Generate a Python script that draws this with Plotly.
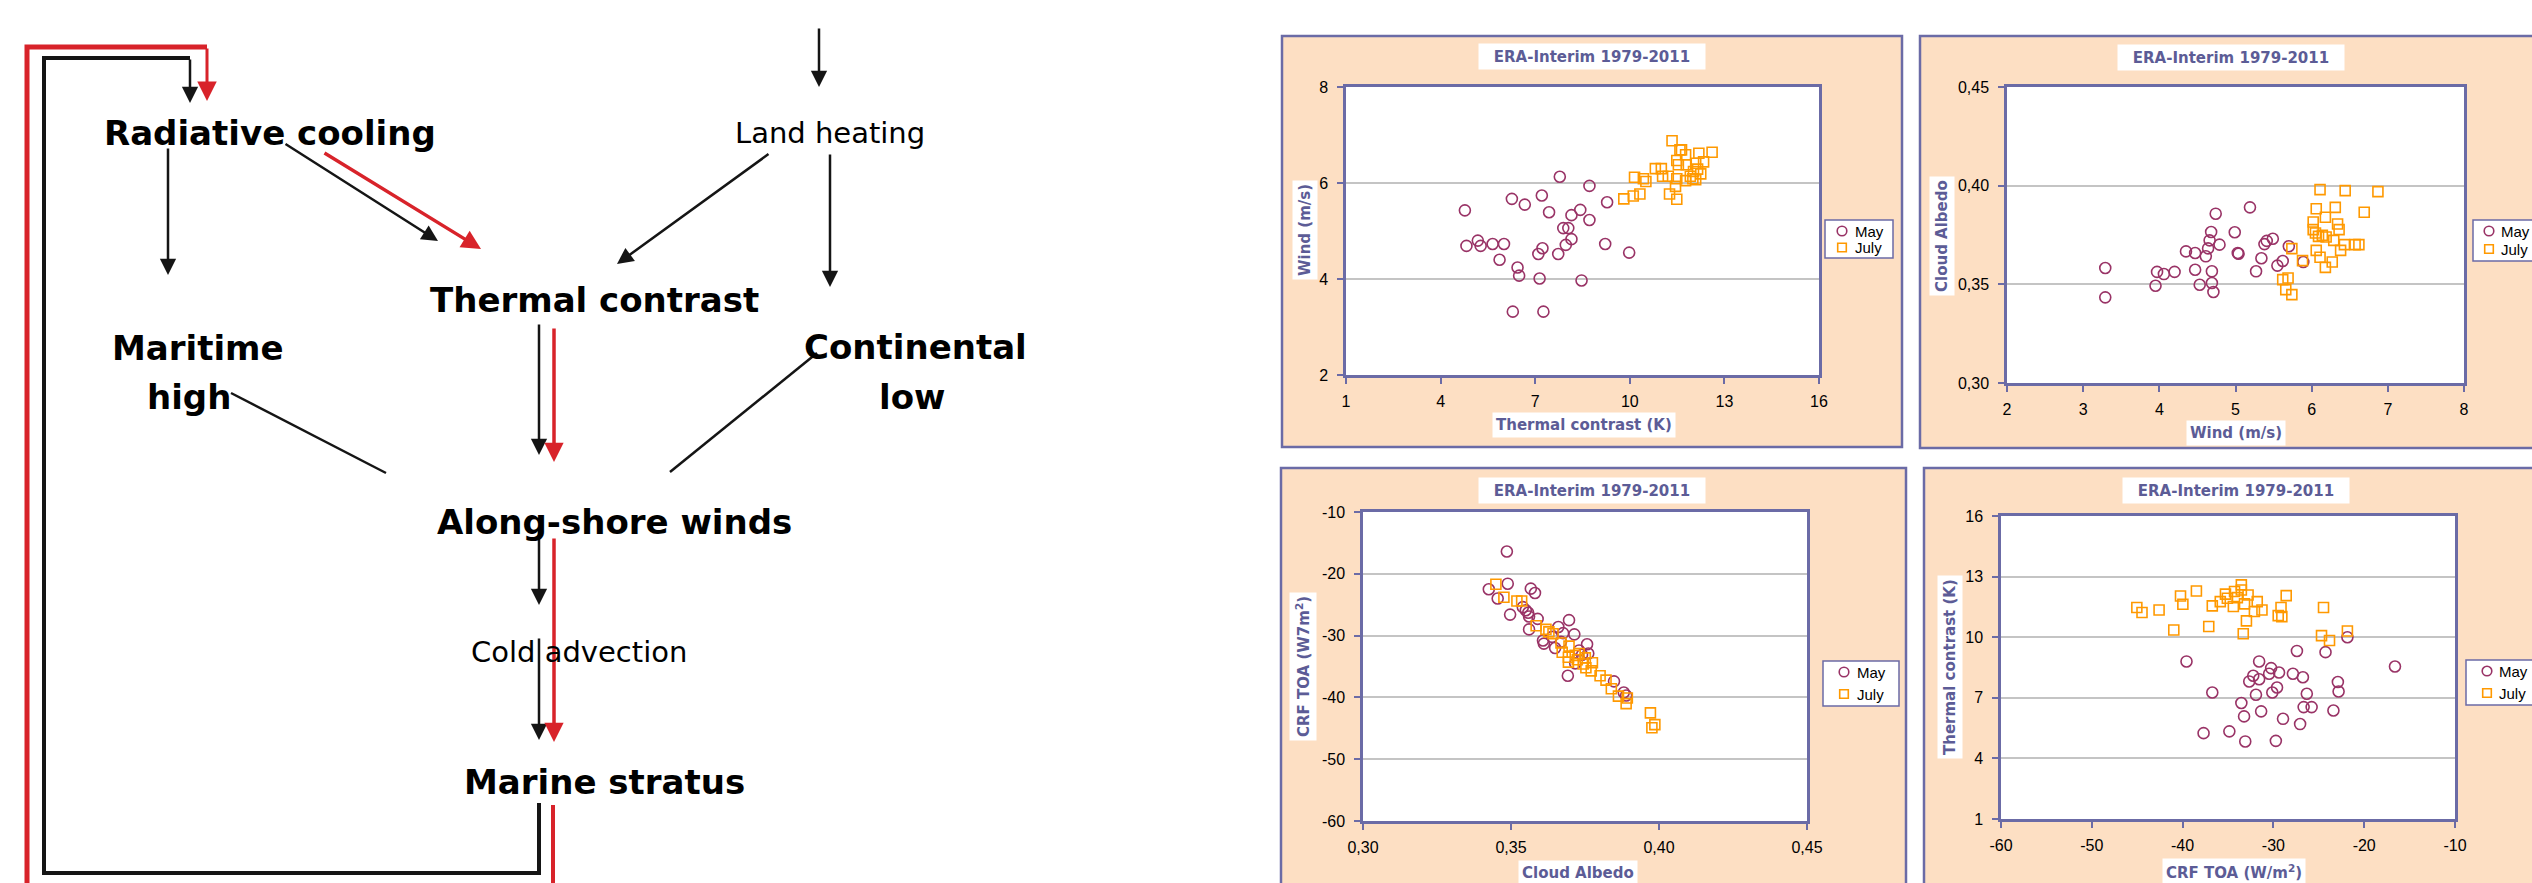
import plotly.graph_objects as go

W, H = 2532, 883

# ---------------- data ----------------
# Panel 1: Thermal contrast (K) vs Wind (m/s)
p1_may_x = [4.77, 4.82, 5.18, 5.27, 5.65, 6.01, 5.87, 6.26, 6.67, 6.44, 6.49, 6.29, 7.21, 7.44, 7.23, 7.10,
            7.14, 7.26, 7.78, 7.73, 7.89, 8.05, 8.15, 8.43, 7.97, 8.15, 8.47, 8.72, 8.72, 9.28, 9.22, 9.98]
p1_may_y = [5.43, 4.69, 4.80, 4.69, 4.73, 4.73, 4.40, 5.67, 5.55, 4.24, 4.07, 3.32, 5.74, 5.39, 4.64, 4.52,
            4.01, 3.32, 6.13, 4.52, 5.06, 5.06, 5.33, 5.44, 4.71, 4.83, 3.97, 5.94, 5.23, 5.60, 4.73, 4.55]
p1_jul_x = [9.81, 10.11, 10.32, 10.15, 10.43, 10.51, 10.81, 11.00, 11.04, 11.22, 11.26, 11.49, 11.45, 11.49,
            11.34, 11.59, 11.64, 11.49, 11.54, 11.77, 11.79, 11.77, 11.92, 12.02, 12.09, 12.09, 12.19, 12.25,
            12.34, 12.61, 12.00, 12.15]
p1_jul_y = [5.67, 5.73, 5.77, 6.12, 6.09, 6.03, 6.30, 6.30, 6.14, 6.14, 5.77, 5.66, 5.93, 6.09,
            6.88, 6.69, 6.69, 6.47, 6.38, 6.59, 6.38, 6.05, 6.14, 6.24, 6.41, 6.07, 6.62, 6.19,
            6.44, 6.64, 6.09, 6.29]

# Panel 2: Wind (m/s) vs Cloud Albedo
p2_may_x = [3.29, 3.29, 3.95, 3.97, 4.06, 4.20, 4.35, 4.47, 4.47, 4.53, 4.61, 4.64, 4.66, 4.68, 4.69, 4.69,
            4.71, 4.74, 4.79, 4.99, 5.03, 5.04, 5.19, 5.27, 5.34, 5.38, 5.41, 5.49, 5.55, 5.62, 5.70, 5.89]
p2_may_y = [0.3583, 0.3434, 0.3493, 0.3563, 0.3552, 0.3563, 0.3667, 0.3659, 0.3574, 0.3498, 0.3642, 0.3682,
            0.3723, 0.3765, 0.3566, 0.3507, 0.3461, 0.3858, 0.3701, 0.3764, 0.3659, 0.3655, 0.3890, 0.3566,
            0.3632, 0.3704, 0.3720, 0.3731, 0.3595, 0.3618, 0.3693, 0.3613]
p2_jul_x = [5.62, 5.69, 5.66, 5.74, 5.74, 5.88, 6.02, 6.02, 6.05, 6.06, 6.09, 6.06, 6.11, 6.11, 6.18, 6.19,
            6.18, 6.29, 6.27, 6.31, 6.34, 6.36, 6.38, 6.43, 6.44, 6.57, 6.62, 6.69, 6.87, 6.14]
p2_jul_y = [0.3524, 0.3532, 0.3473, 0.3448, 0.3681, 0.3620, 0.3816, 0.3777, 0.3760, 0.3883, 0.3743, 0.3672,
            0.3980, 0.3637, 0.3840, 0.3740, 0.3586, 0.3723, 0.3613, 0.3890, 0.3806, 0.3777, 0.3672, 0.3701,
            0.3975, 0.3701, 0.3701, 0.3865, 0.3970, 0.3748]

# Panel 3: Cloud Albedo vs CRF TOA
p3_may_x = [0.3486, 0.3489, 0.3425, 0.3455, 0.3497, 0.3567, 0.3581, 0.3540, 0.3550, 0.3558, 0.3561, 0.3561,
            0.3590, 0.3608, 0.3611, 0.3639, 0.3649, 0.3660, 0.3676, 0.3696, 0.3714, 0.3692, 0.3730, 0.3740,
            0.3757, 0.3761, 0.3717, 0.3848, 0.3881, 0.3889, 0.3669]
p3_may_y = [-16.4, -21.6, -22.5, -24.0, -26.6, -22.4, -23.1, -25.4, -25.9, -26.3, -26.9, -29.0,
            -27.3, -30.8, -31.3, -30.2, -32.0, -28.6, -29.6, -27.5, -29.8, -36.5, -32.4, -33.1,
            -31.4, -32.9, -34.5, -37.4, -39.2, -39.7, -31.0]
p3_jul_x = [0.3449, 0.3476, 0.3520, 0.3536, 0.3585, 0.3618, 0.3628, 0.3642, 0.3669, 0.3673, 0.3696, 0.3694,
            0.3694, 0.3717, 0.3730, 0.3724, 0.3744, 0.3751, 0.3753, 0.3775, 0.3771, 0.3801, 0.3821, 0.3839,
            0.3863, 0.3893, 0.3889, 0.3971, 0.3976, 0.3986]
p3_jul_y = [-21.7, -23.8, -24.4, -24.4, -28.4, -29.0, -29.4, -29.7, -31.2, -32.7, -31.7, -33.5,
            -34.3, -33.2, -32.9, -33.9, -34.6, -33.6, -35.2, -34.4, -35.7, -36.5, -37.2, -38.6,
            -39.8, -40.1, -41.0, -42.5, -44.9, -44.4]

# Panel 4: CRF TOA vs Thermal contrast
p4_may_x = [-39.57, -37.69, -36.73, -34.85, -33.53, -33.23, -33.10, -32.66, -32.22, -31.92, -31.57, -31.57,
            -31.35, -30.47, -30.25, -30.12, -29.60, -29.38, -29.73, -28.94, -27.85, -27.41, -27.06, -26.75,
            -26.32, -26.67, -25.79, -24.26, -23.39, -22.90, -22.82, -21.85, -16.61]
p4_may_y = [8.80, 5.25, 7.26, 5.34, 6.74, 6.08, 4.84, 7.81, 8.09, 7.15, 7.92, 8.80,
            6.33, 8.19, 8.47, 7.26, 7.51, 8.25, 4.87, 5.96, 8.19, 9.32, 5.70, 8.02,
            7.20, 6.54, 6.54, 9.26, 6.37, 7.78, 7.31, 10.00, 8.55]
p4_jul_x = [-45.04, -44.47, -42.59, -40.97, -40.23, -39.97, -38.48, -37.12, -36.73, -35.85, -35.28, -35.07,
            -34.41, -34.28, -33.97, -33.53, -33.53, -33.32, -33.18, -32.97, -32.79, -32.09, -31.78, -31.26,
            -29.47, -29.16, -29.07, -28.59, -24.70, -24.48, -23.82, -21.85]
p4_jul_y = [11.47, 11.22, 11.35, 10.36, 12.04, 11.63, 12.29, 10.53, 11.55, 11.76, 12.13, 11.93,
            11.52, 12.26, 11.96, 12.59, 12.34, 10.17, 11.65, 10.81, 12.09, 11.27, 11.76, 11.35,
            11.07, 11.47, 11.02, 12.06, 10.08, 11.47, 9.84, 10.31]

# tick values / labels
p1_xticks = [1, 4, 7, 10, 13, 16]
p1_yticks = [2, 4, 6, 8]
p2_xticks = [2, 3, 4, 5, 6, 7, 8]
p2_yticks = [0.30, 0.35, 0.40, 0.45]
p2_yticklabels = ["0,30", "0,35", "0,40", "0,45"]
p3_xticks = [0.30, 0.35, 0.40, 0.45]
p3_xticklabels = ["0,30", "0,35", "0,40", "0,45"]
p3_yticks = [-60, -50, -40, -30, -20, -10]
p3_yticklabels = ["-60", "-50", "-40", "-30", "-20", "-10"]
p4_xticks = [-60, -50, -40, -30, -20, -10]
p4_xticklabels = ["-60", "-50", "-40", "-30", "-20", "-10"]
p4_yticks = [1, 4, 7, 10, 13, 16]

chart_title = "ERA-Interim 1979-2011"
series_names = ["May", "July"]

# ---------------- styling ----------------
PEACH = "#FDDFC3"
BORDER = "#6B6BA6"
TITLE_C = "#5C5C96"
MAY_C = "#993366"
JUL_C = "#FF9900"
GRID = "#C4C4C4"
RED = "#D8232A"
BLK = "#151515"
TICKFONT = dict(family="Liberation Sans, Arial", size=16, color="black")
LEGFONT = dict(family="Liberation Sans, Arial", size=15, color="black")
BOLDFONT = "DejaVu Sans"


def X(px):
    return px / W


def Y(py):
    return 1 - py / H


fig = go.Figure()

panels = [
    dict(xd=(1346, 1819), yd=(87, 375), xr=[1, 16], yr=[2, 8],
         xt=p1_xticks, xtl=[str(v) for v in p1_xticks], yt=p1_yticks, ytl=[str(v) for v in p1_yticks],
         may=(p1_may_x, p1_may_y), jul=(p1_jul_x, p1_jul_y),
         box=(1282, 36, 1902, 447), title=(1592, 56.5),
         leg=dict(box=(1825, 220, 1893, 258), mx=1842, tx=1853, y1=231, y2=247.5),
         xtitle=("Thermal contrast (K)", 1584, 424.5), ytitle=("Wind (m/s)", 1305, 230)),
    dict(xd=(2007, 2464), yd=(87, 383), xr=[2, 8], yr=[0.30, 0.45],
         xt=p2_xticks, xtl=[str(v) for v in p2_xticks], yt=p2_yticks, ytl=p2_yticklabels,
         may=(p2_may_x, p2_may_y), jul=(p2_jul_x, p2_jul_y),
         box=(1920, 36, 2560, 448), title=(2231, 57),
         leg=dict(box=(2473, 220, 2560, 261), mx=2489, tx=2499, y1=231, y2=249),
         xtitle=("Wind (m/s)", 2236, 433), ytitle=("Cloud Albedo", 1942, 236)),
    dict(xd=(1363, 1807), yd=(512, 821), xr=[0.30, 0.45], yr=[-60, -10],
         xt=p3_xticks, xtl=p3_xticklabels, yt=p3_yticks, ytl=p3_yticklabels,
         may=(p3_may_x, p3_may_y), jul=(p3_jul_x, p3_jul_y),
         box=(1281, 468, 1906, 900), title=(1592, 490.5),
         leg=dict(box=(1823, 661, 1899, 706), mx=1844, tx=1855, y1=672, y2=694),
         xtitle=("Cloud Albedo", 1578, 873), ytitle=("CRF TOA (W7m<sup>2</sup>)", 1303, 667)),
    dict(xd=(2001, 2455), yd=(516, 819), xr=[-60, -10], yr=[1, 16],
         xt=p4_xticks, xtl=p4_xticklabels, yt=p4_yticks, ytl=[str(v) for v in p4_yticks],
         may=(p4_may_x, p4_may_y), jul=(p4_jul_x, p4_jul_y),
         box=(1924, 468, 2560, 900), title=(2236, 490),
         leg=dict(box=(2466, 660, 2560, 705), mx=2487, tx=2497, y1=671, y2=693),
         xtitle=("CRF TOA (W/m<sup>2</sup>)", 2234, 872), ytitle=("Thermal contrast (K)", 1950, 667)),
]

shapes = []
annotations = []
layout_extra = {}

for i, p in enumerate(panels, start=1):
    sfx = "" if i == 1 else str(i)
    xa, ya = "x" + sfx, "y" + sfx
    # panel background and plot-area background
    bx0, by0, bx1, by1 = p["box"]
    shapes.append(dict(type="rect", xref="paper", yref="paper", layer="below",
                       x0=X(bx0), x1=X(bx1), y0=Y(by1), y1=Y(by0),
                       fillcolor=PEACH, line=dict(color=BORDER, width=2.5)))
    shapes.append(dict(type="rect", xref="paper", yref="paper", layer="below",
                       x0=X(p["xd"][0]), x1=X(p["xd"][1]), y0=Y(p["yd"][1]), y1=Y(p["yd"][0]),
                       fillcolor="white", line=dict(width=0)))
    layout_extra["xaxis" + sfx] = dict(
        domain=[X(p["xd"][0]), X(p["xd"][1])], anchor=ya, range=p["xr"],
        tickvals=p["xt"], ticktext=p["xtl"], showgrid=False, zeroline=False,
        showline=True, mirror=True, linecolor=BORDER, linewidth=2.5,
        ticks="outside", ticklen=6, tickwidth=2, tickcolor=BORDER,
        tickfont=TICKFONT, ticklabelstandoff=4)
    layout_extra["yaxis" + sfx] = dict(
        domain=[Y(p["yd"][1]), Y(p["yd"][0])], anchor=xa, range=p["yr"],
        tickvals=p["yt"], ticktext=p["ytl"], showgrid=True, gridcolor=GRID, gridwidth=1.5,
        zeroline=False, showline=True, mirror=True, linecolor=BORDER, linewidth=2.5,
        ticks="outside", ticklen=6, tickwidth=2, tickcolor=BORDER,
        tickfont=TICKFONT, ticklabelstandoff=6)
    fig.add_trace(go.Scatter(
        x=p["may"][0], y=p["may"][1], mode="markers", name=series_names[0],
        marker=dict(symbol="circle-open", size=11, color=MAY_C, line=dict(width=1.6, color=MAY_C)),
        xaxis=xa, yaxis=ya, showlegend=False))
    fig.add_trace(go.Scatter(
        x=p["jul"][0], y=p["jul"][1], mode="markers", name=series_names[1],
        marker=dict(symbol="square-open", size=10, color=JUL_C, line=dict(width=1.6, color=JUL_C)),
        xaxis=xa, yaxis=ya, showlegend=False))

    # legend box (drawn as shapes + texts)
    lg = p["leg"]
    lx0, ly0, lx1, ly1 = lg["box"]
    shapes.append(dict(type="rect", xref="paper", yref="paper",
                       x0=X(lx0), x1=X(lx1), y0=Y(ly1), y1=Y(ly0),
                       fillcolor="white", line=dict(color=BORDER, width=1.5)))
    r = 4.8
    shapes.append(dict(type="circle", xref="paper", yref="paper",
                       x0=X(lg["mx"] - r), x1=X(lg["mx"] + r), y0=Y(lg["y1"] + r), y1=Y(lg["y1"] - r),
                       line=dict(color=MAY_C, width=1.6)))
    s = 4.3
    shapes.append(dict(type="rect", xref="paper", yref="paper",
                       x0=X(lg["mx"] - s), x1=X(lg["mx"] + s), y0=Y(lg["y2"] + s), y1=Y(lg["y2"] - s),
                       line=dict(color=JUL_C, width=1.6)))
    for name, yy in zip(series_names, (lg["y1"], lg["y2"])):
        annotations.append(dict(x=X(lg["tx"]), y=Y(yy), xref="paper", yref="paper", text=name,
                                showarrow=False, font=LEGFONT, xanchor="left", yanchor="middle"))

    # chart title
    annotations.append(dict(x=X(p["title"][0]), y=Y(p["title"][1]), xref="paper", yref="paper",
                            text="<b>%s</b>" % chart_title, showarrow=False, bgcolor="white",
                            width=222, height=21, borderpad=2,
                            font=dict(family=BOLDFONT, size=15, color=TITLE_C),
                            xanchor="center", yanchor="middle"))
    # axis titles
    t, tx, ty = p["xtitle"]
    annotations.append(dict(x=X(tx), y=Y(ty), xref="paper", yref="paper", text="<b>%s</b>" % t,
                            showarrow=False, bgcolor="white", borderpad=3,
                            font=dict(family=BOLDFONT, size=15, color=TITLE_C),
                            xanchor="center", yanchor="middle"))
    t, tx, ty = p["ytitle"]
    annotations.append(dict(x=X(tx), y=Y(ty), xref="paper", yref="paper", text="<b>%s</b>" % t,
                            showarrow=False, bgcolor="white", borderpad=3, textangle=-90,
                            font=dict(family=BOLDFONT, size=15, color=TITLE_C),
                            xanchor="center", yanchor="middle"))


# ---------------- left flow diagram ----------------
def line(x0, y0, x1, y1, color, width):
    shapes.append(dict(type="line", xref="paper", yref="paper",
                       x0=X(x0), y0=Y(y0), x1=X(x1), y1=Y(y1),
                       line=dict(color=color, width=width)))


def polyline(pts, color, width):
    path = "M " + " L ".join("%f %f" % (X(a), Y(b)) for a, b in pts)
    shapes.append(dict(type="path", xref="paper", yref="paper", path=path,
                       line=dict(color=color, width=width)))


def arrow(x0, y0, x1, y1, color, width, size=1.3):
    annotations.append(dict(x=X(x1), y=Y(y1), xref="paper", yref="paper",
                            ax=x0 - x1, ay=y0 - y1, axref="pixel", ayref="pixel",
                            text="", showarrow=True, arrowhead=2, arrowsize=size,
                            arrowwidth=width, arrowcolor=color, standoff=0, startstandoff=0))


def label(txt, cx, cy, bold=True, size=34):
    annotations.append(dict(x=X(cx), y=Y(cy), xref="paper", yref="paper",
                            text="<b>%s</b>" % txt if bold else txt, showarrow=False,
                            font=dict(family="DejaVu Sans", size=size, color="black"),
                            xanchor="center", yanchor="middle"))


# feedback loops
polyline([(27, 900), (27, 47), (207, 47)], RED, 5)
arrow(207, 47, 207, 101, RED, 3)
polyline([(539, 803), (539, 873), (44, 873), (44, 58), (190, 58)], BLK, 4)
arrow(190, 58, 190, 103, BLK, 2.5)
line(553, 805, 553, 900, RED, 4)

# incoming arrow from top to land heating
arrow(819, 27, 819, 87, BLK, 2.5)
# radiative cooling -> maritime high
arrow(168, 147, 168, 275, BLK, 2.5)
# radiative cooling -> thermal contrast
arrow(284, 143, 438, 241, BLK, 2.5)
arrow(323, 152, 481, 249, RED, 3.5, 1.1)
# land heating -> thermal contrast / continental low
arrow(770, 153, 617, 264, BLK, 2.5)
arrow(830, 153, 830, 287, BLK, 2.5)
# thermal contrast -> along-shore winds
arrow(539, 323, 539, 455, BLK, 2.5)
arrow(554, 327, 554, 462, RED, 3.5, 1.1)
# maritime high / continental low -> along-shore winds
line(231, 393, 386, 473, BLK, 2.5)
line(817, 353, 670, 472, BLK, 2.5)
# along-shore -> cold advection -> marine stratus
arrow(539, 527, 539, 605, BLK, 2.5)
arrow(539, 637, 539, 740, BLK, 2.5)
arrow(554, 537, 554, 742, RED, 3.5, 1.1)

label("Radiative cooling", 270, 133)
label("Land heating", 830, 133, bold=False, size=29)
label("Thermal contrast", 594, 300)
label("Maritime", 198, 348)
label("high", 189, 397)
label("Continental", 915, 347)
label("low", 912, 397)
label("Along-shore winds", 614, 522)
label("Cold advection", 579, 652, bold=False, size=29)
label("Marine stratus", 604, 782)

fig.update_layout(
    width=W, height=H, autosize=False,
    margin=dict(l=0, r=0, t=0, b=0, pad=0, autoexpand=False),
    paper_bgcolor="white", plot_bgcolor="rgba(0,0,0,0)",
    showlegend=False,
    shapes=shapes, annotations=annotations,
    **layout_extra,
)

fig.write_html("out.html")
